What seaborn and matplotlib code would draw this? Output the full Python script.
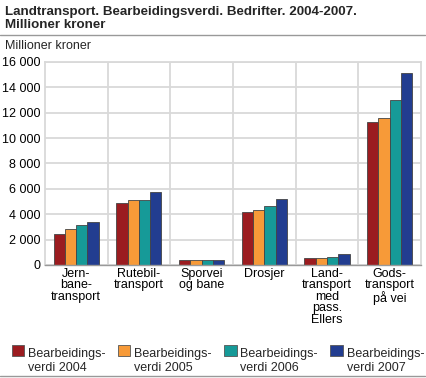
import matplotlib
matplotlib.use("Agg")
import matplotlib.pyplot as plt
import seaborn as sns
import pandas as pd
from matplotlib.ticker import FuncFormatter, FixedLocator
from matplotlib.patches import Patch, Rectangle
from matplotlib.legend_handler import HandlerPatch

categories = ["Jern-\nbane-\ntransport", "Rutebil-\ntransport", "Sporvei\nog bane",
              "Drosjer", "Land-\ntransport\nmed\npass.\nEllers", "Gods-\ntransport\npå vei"]
series = ["Bearbeidings-\nverdi 2004", "Bearbeidings-\nverdi 2005",
          "Bearbeidings-\nverdi 2006", "Bearbeidings-\nverdi 2007"]
v2004 = [2430, 4880, 400, 4150, 530, 11250]
v2005 = [2850, 5120, 400, 4330, 530, 11620]
v2006 = [3120, 5100, 380, 4680, 630, 13040]
v2007 = [3380, 5760, 430, 5210, 850, 15160]
colors = ["#9b1c20", "#f79a38", "#169a98", "#223d90"]

rows = []
for s, vals in zip(series, [v2004, v2005, v2006, v2007]):
    for c, v in zip(categories, vals):
        rows.append({"cat": c, "series": s, "value": v})
df = pd.DataFrame(rows)

sns.set_theme(style="white")
plt.rcParams["font.family"] = ["Liberation Sans", "DejaVu Sans"]

fig = plt.figure(figsize=(4.27, 3.78), dpi=100)
ax = fig.add_axes([0.105, 0.299, 0.881, 0.537])
sns.barplot(data=df, x="cat", y="value", hue="series", palette=colors,
            width=0.72, edgecolor="#444444", linewidth=0.6, ax=ax, legend=False,
            saturation=1)

ax.set_xlim(-0.5, 5.5)
ax.set_ylim(0, 16000)
ax.set_yticks(range(0, 16001, 2000))
ax.yaxis.set_major_formatter(FuncFormatter(lambda v, p: f"{int(v):,}".replace(",", " ")))
ax.xaxis.set_minor_locator(FixedLocator([0.5, 1.5, 2.5, 3.5, 4.5]))
ax.grid(axis="y", which="major", color="#d9d9d9", linewidth=1.3)
ax.grid(axis="x", which="minor", color="#d9d9d9", linewidth=1.3)
ax.set_axisbelow(True)
ax.set_xlabel("")
ax.set_ylabel("")
ax.tick_params(axis="both", which="both", length=0, labelsize=9, colors="#000000", pad=3)
ax.tick_params(axis="x", pad=2)
for lbl in ax.get_xticklabels():
    lbl.set_linespacing(0.95)
for side in ["top", "right", "left"]:
    ax.spines[side].set_color("#d9d9d9")
    ax.spines[side].set_linewidth(1.3)
ax.spines["bottom"].set_color("#999999")
ax.spines["bottom"].set_linewidth(1.0)

fig.text(0.012, 0.985, "Landtransport. Bearbeidingsverdi. Bedrifter. 2004-2007.\nMillioner kroner",
         fontsize=9.6, fontweight="bold", va="top", ha="left", linespacing=1.1)
fig.add_artist(plt.Line2D([0.0, 0.995], [0.907, 0.907], color="#999999", linewidth=1.0))
fig.text(0.012, 0.862, "Millioner kroner", fontsize=9, va="bottom", ha="left")


def shifted_patch(legend, orig_handle, xdescent, ydescent, width, height, fontsize):
    return Rectangle((-xdescent, -ydescent + 8), width, height)


handles = [Patch(facecolor=c, edgecolor="#555555", linewidth=0.6) for c in colors]
fig.legend(handles, series, loc="center", bbox_to_anchor=(0.51, 0.045), ncol=4,
           frameon=False, fontsize=9, handlelength=1.0, handleheight=1.0,
           handletextpad=0.3, columnspacing=1.0, borderaxespad=0,
           handler_map={Patch: HandlerPatch(patch_func=shifted_patch)})
fig.add_artist(plt.Line2D([0.0, 0.995], [0.005, 0.005], color="#999999", linewidth=1.0))

fig.savefig("out.png", dpi=100)
